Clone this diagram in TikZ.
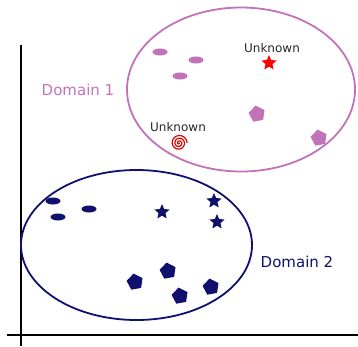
\documentclass[tikz,border=0pt]{standalone}
\usepackage{fontspec}
\setmainfont{DejaVu Sans}
\usetikzlibrary{shapes.geometric}
\definecolor{dpurple}{HTML}{C272B8}
\definecolor{dnavy}{HTML}{10106E}
\tikzset{
  dot/.style={ellipse, fill=#1, minimum width=15pt, minimum height=7pt, inner sep=0pt},
  starm/.style={star, star points=5, star point ratio=2.2, fill=#1, minimum size=16pt, inner sep=0pt},
  pent/.style={regular polygon, regular polygon sides=5, fill=#1, minimum size=17pt, inner sep=0pt, rotate=10},
  lbl/.style={font=\fontsize{12}{14}\selectfont, text=black!85, inner sep=0pt},
  dlbl/.style={font=\fontsize{15}{18}\selectfont, inner sep=0pt},
}
\begin{document}
\begin{tikzpicture}[x=1pt,y=-1pt]
\useasboundingbox (0,0) rectangle (358,346);
% axes
\coordinate (ytop) at (21,45);
\coordinate (ybot) at (21,346);
\coordinate (xl) at (7,335);
\coordinate (xr) at (358,335);
\draw[line width=1.8pt] (ytop) -- (ybot);
\draw[line width=1.8pt] (xl) -- (xr);
% domains
\node[draw=dpurple, line width=1.8pt, ellipse, minimum width=228pt, minimum height=164pt, inner sep=0pt] (d1) at (241,89.5) {};
\node[draw=dnavy, line width=1.8pt, ellipse, minimum width=231pt, minimum height=150pt, inner sep=0pt] (d2) at (136.5,245) {};
\node[dlbl, text=dpurple] (l1) at (78,90) {Domain 1};
\node[dlbl, text=dnavy] (l2) at (297,262) {Domain 2};
% domain 1 content
\node[dot=dpurple] (p1) at (160,52) {};
\node[dot=dpurple] (p2) at (196,60) {};
\node[dot=dpurple] (p3) at (180,76) {};
\node[pent=dpurple] (p4) at (257,114) {};
\node[pent=dpurple] (p5) at (319,138) {};
\node[starm=red] (s1) at (269,63) {};
\node[lbl] (u1) at (272,48) {Unknown};
\node[lbl] (u2) at (178,127) {Unknown};
\coordinate (sp) at (179,143);
\draw[red!85!black, line width=1.2pt] plot[domain=0:6*pi, samples=160, variable=\t] ({179+0.43*\t*cos(\t r)}, {143+0.43*\t*sin(\t r)});
% domain 2 content
\node[dot=dnavy] (n1) at (53,201) {};
\node[dot=dnavy] (n2) at (58,217) {};
\node[dot=dnavy] (n3) at (89,209) {};
\node[starm=dnavy] (t1) at (162,212) {};
\node[starm=dnavy] (t2) at (214,201) {};
\node[starm=dnavy] (t3) at (217,222) {};
\node[pent=dnavy] (q1) at (135,282) {};
\node[pent=dnavy] (q2) at (168,271) {};
\node[pent=dnavy] (q3) at (180,296) {};
\node[pent=dnavy] (q4) at (211,287) {};
\end{tikzpicture}
\end{document}
